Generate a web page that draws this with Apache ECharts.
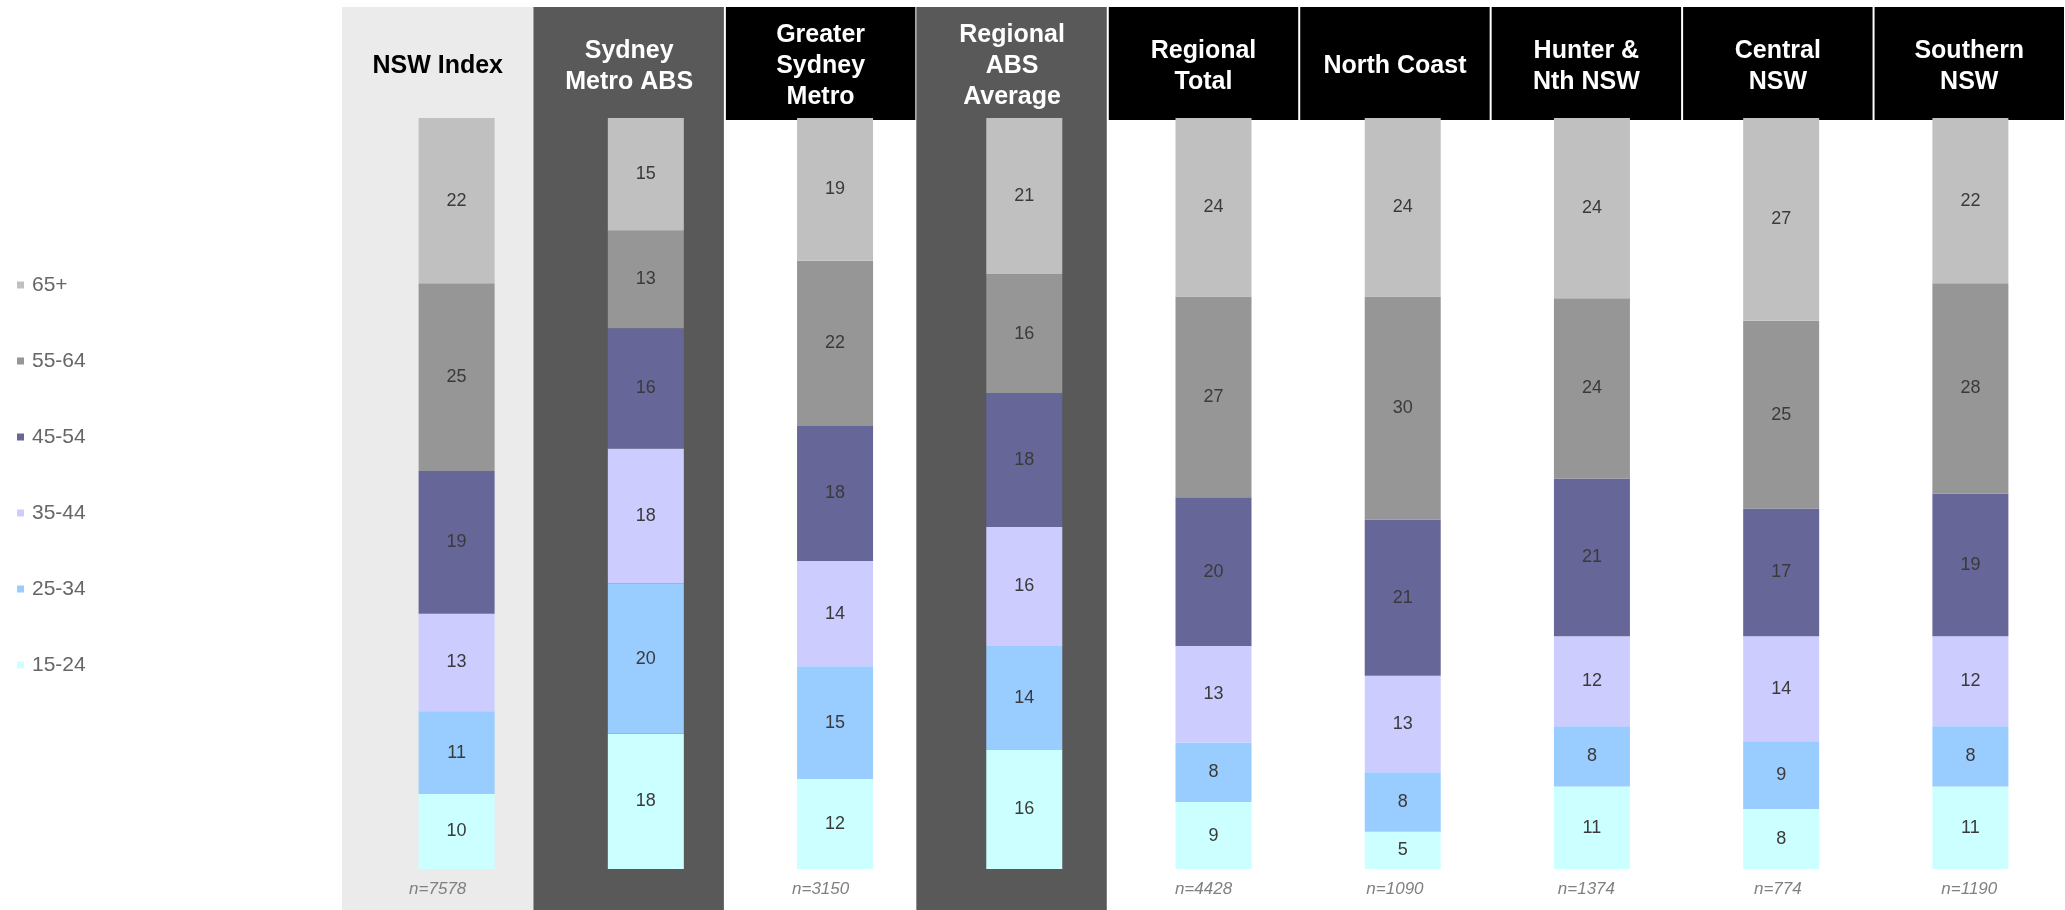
<!DOCTYPE html>
<html>
<head>
<meta charset="utf-8">
<title>Age profile by region</title>
<script src="https://cdn.jsdelivr.net/npm/echarts@6/dist/echarts.min.js"></script>
<style>
  html, body { margin: 0; padding: 0; background: #ffffff; }
  #chart { width: 2065px; height: 910px; }
</style>
</head>
<body>
<div id="chart"></div>
<script>
// ---- Data -----------------------------------------------------------------
const categories = [
  'NSW Index', 'Sydney Metro ABS', 'Greater Sydney Metro', 'Regional ABS Average',
  'Regional Total', 'North Coast', 'Hunter & Nth NSW', 'Central NSW', 'Southern NSW'
];
const headerLines = [
  'NSW Index', 'Sydney\nMetro ABS', 'Greater\nSydney\nMetro', 'Regional\nABS\nAverage',
  'Regional\nTotal', 'North Coast', 'Hunter &\nNth NSW', 'Central\nNSW', 'Southern\nNSW'
];
const sampleSizes = [7578, null, 3150, null, 4428, 1090, 1374, 774, 1190];

const ageGroups = ['15-24', '25-34', '35-44', '45-54', '55-64', '65+'];
const age15to24 = [10, 18, 12, 16, 9, 5, 11, 8, 11];
const age25to34 = [11, 20, 15, 14, 8, 8, 8, 9, 8];
const age35to44 = [13, 18, 14, 16, 13, 13, 12, 14, 12];
const age45to54 = [19, 16, 18, 18, 20, 21, 21, 17, 19];
const age55to64 = [25, 13, 22, 16, 27, 30, 24, 25, 28];
const age65plus = [22, 15, 19, 21, 24, 24, 24, 27, 22];

// ---- Styling --------------------------------------------------------------
const FONT = '"Liberation Sans", Arial, Helvetica, sans-serif';
const groupColors = ['#ccffff', '#99ccff', '#ccccff', '#666699', '#969696', '#c0c0c0'];
// panel look per column: background fill, header block fill, header text colour
const PANEL_THEME = [
  { fill: '#ebebeb', header: null,   text: '#000000' },
  { fill: '#595959', header: null,   text: '#ffffff' },
  { fill: null,      header: '#000000', text: '#ffffff' },
  { fill: '#595959', header: null,   text: '#ffffff' },
  { fill: null,      header: '#000000', text: '#ffffff' },
  { fill: null,      header: '#000000', text: '#ffffff' },
  { fill: null,      header: '#000000', text: '#ffffff' },
  { fill: null,      header: '#000000', text: '#ffffff' },
  { fill: null,      header: '#000000', text: '#ffffff' }
];
const HEADER_H = 113;

// ---- Build the 100% stacked series ---------------------------------------
const groupValues = [age15to24, age25to34, age35to44, age45to54, age55to64, age65plus];
const columnTotals = categories.map((_, i) =>
  groupValues.reduce((s, arr) => s + arr[i], 0));

const barSeries = ageGroups.map((name, g) => ({
  name: name,
  type: 'bar',
  stack: 'share',
  xAxisIndex: 0,
  yAxisIndex: 0,
  barWidth: 76,
  z: 2,
  itemStyle: { color: groupColors[g] },
  label: {
    show: true,
    position: 'inside',
    fontFamily: FONT,
    fontSize: 18,
    color: '#3a3a3a',
    formatter: p => String(p.data.raw)
  },
  emphasis: { disabled: true },
  data: groupValues[g].map((v, i) => ({ value: v / columnTotals[i] * 100, raw: v }))
}));

// Column panels: shaded backgrounds, header blocks, titles and sample sizes
function renderPanel(params, api) {
  const i = api.value(0);
  const cs = params.coordSys;
  const band = api.size([1, 0])[0];
  const cx = api.coord([i, 0])[0];
  const x0 = cx - band / 2;
  const theme = PANEL_THEME[i];
  const children = [];
  if (theme.fill) {
    const inset = theme.fill === '#595959' ? 1 : 0;
    children.push({
      type: 'rect',
      shape: { x: x0, y: cs.y, width: band - inset, height: cs.height },
      style: { fill: theme.fill }
    });
  }
  if (theme.header) {
    children.push({
      type: 'rect',
      shape: { x: x0 + 1, y: cs.y, width: band - 2, height: HEADER_H },
      style: { fill: theme.header }
    });
  }
  children.push({
    type: 'text',
    x: cx,
    y: cs.y + HEADER_H / 2 + 3,
    style: {
      text: headerLines[i],
      fill: theme.text,
      fontFamily: FONT,
      fontSize: 25,
      fontWeight: 'bold',
      lineHeight: 31,
      align: 'center',
      verticalAlign: 'middle'
    }
  });
  if (sampleSizes[i] != null) {
    children.push({
      type: 'text',
      x: cx,
      y: cs.y + cs.height - 21,
      style: {
        text: 'n=' + sampleSizes[i],
        fill: '#808080',
        fontFamily: FONT,
        fontSize: 17,
        fontStyle: 'italic',
        align: 'center',
        verticalAlign: 'middle'
      }
    });
  }
  return { type: 'group', children: children };
}

const option = {
  animation: false,
  backgroundColor: '#ffffff',
  textStyle: { fontFamily: FONT },
  legend: {
    data: ageGroups.slice().reverse(),
    orient: 'vertical',
    left: 12,
    top: 269,
    icon: 'rect',
    itemWidth: 7,
    itemHeight: 7,
    itemGap: 54,
    selectedMode: false,
    textStyle: {
      fontFamily: FONT, fontSize: 21, lineHeight: 22, color: '#666666',
      padding: [0, 0, 0, 3]
    }
  },
  grid: [
    { left: 362, right: 0, top: 118, bottom: 41 },
    { left: 342, right: 0, top: 7, bottom: 0 }
  ],
  xAxis: [
    { type: 'category', gridIndex: 0, data: categories, show: false },
    { type: 'category', gridIndex: 1, data: categories, show: false }
  ],
  yAxis: [
    { type: 'value', gridIndex: 0, min: 0, max: 100, show: false },
    { type: 'value', gridIndex: 1, min: 0, max: 1, show: false }
  ],
  series: [
    {
      type: 'custom',
      xAxisIndex: 1,
      yAxisIndex: 1,
      z: 0,
      silent: true,
      renderItem: renderPanel,
      data: categories.map((_, i) => [i])
    }
  ].concat(barSeries)
};

const chart = echarts.init(document.getElementById('chart'), null, { renderer: 'canvas' });
chart.setOption(option);
</script>
</body>
</html>
